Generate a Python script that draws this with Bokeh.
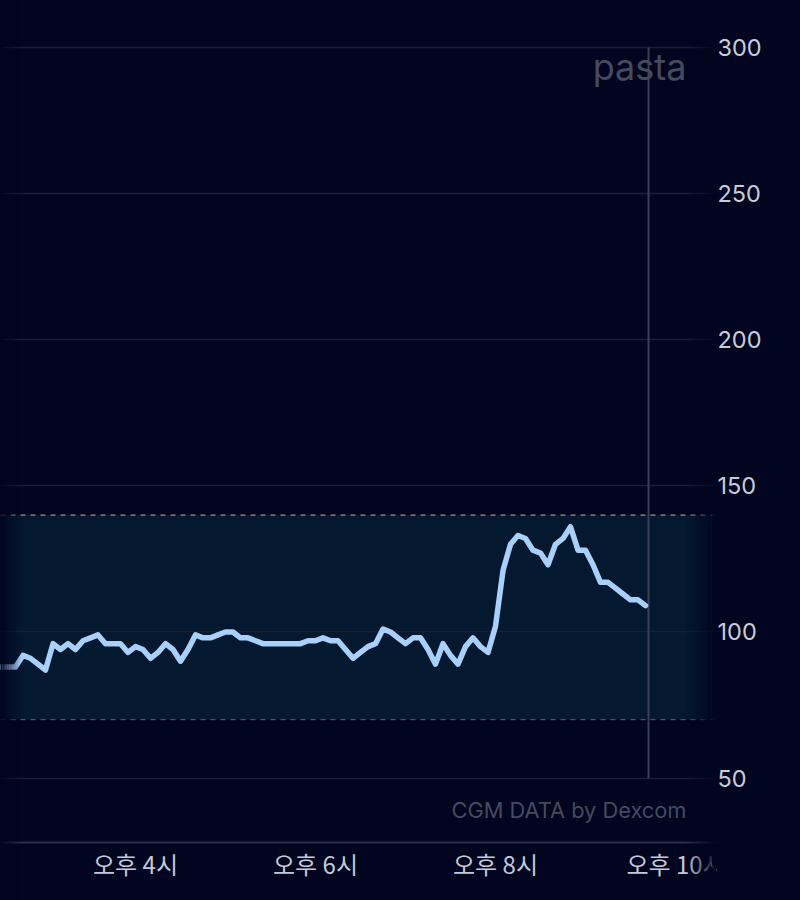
from bokeh.core.properties import value
from bokeh.document import Document
from bokeh.embed import file_html
from bokeh.events import DocumentReady
from bokeh.models import ColumnDataSource, CustomJS, FixedTicker, Label
from bokeh.plotting import figure
from bokeh.resources import INLINE

# 혈당 데이터 (분 단위 시각, mg/dL)
minutes = [870, 875, 880, 885, 890, 895, 900, 905, 910, 915, 920, 925, 930, 935, 940,
           945, 950, 955, 960, 965, 970, 975, 980, 985, 990, 995, 1000, 1005, 1010, 1015,
           1020, 1025, 1030, 1035, 1040, 1045, 1050, 1055, 1060, 1065, 1070, 1075, 1080,
           1085, 1090, 1095, 1100, 1105, 1110, 1115, 1120, 1125, 1130, 1135, 1140, 1145,
           1150, 1155, 1160, 1165, 1170, 1175, 1180, 1185, 1190, 1195, 1200, 1205, 1210,
           1215, 1220, 1225, 1230, 1235, 1240, 1245, 1250, 1255, 1260, 1265, 1270, 1275,
           1280, 1285, 1290, 1295, 1300]
glucose = [88, 88, 88, 92, 91, 89, 87, 96, 94, 96, 94, 97, 98, 99, 96,
           96, 96, 93, 95, 94, 91, 93, 96, 94, 90, 94, 99, 98, 98, 99,
           100, 100, 98, 98, 97, 96, 96, 96, 96, 96, 96, 97, 97,
           98, 97, 97, 94, 91, 93, 95, 96, 101, 100, 98, 96, 98,
           98, 94, 89, 96, 92, 89, 95, 98, 95, 93, 102, 121, 130,
           133, 132, 128, 127, 123, 130, 132, 136, 128, 128, 123, 117, 117,
           115, 113, 111, 111, 109]

y_ticks = [50, 100, 150, 200, 250, 300]
x_ticks = [960, 1080, 1200, 1320]
x_labels = ["오후 4시", "오후 6시", "오후 8시", "오후 10시"]
range_low = 70
range_high = 140
now_line = 1302

BG = "#01051f"
x_start, x_end = 870, 1347.33
y_start, y_end = 8.14, 316.04

source = ColumnDataSource(data=dict(minutes=minutes, glucose=glucose))

p = figure(width=800, height=900, output_backend="svg", toolbar_location=None,
           x_range=(x_start, x_end), y_range=(y_start, y_end), y_axis_location="right",
           background_fill_color=BG, border_fill_color=BG, outline_line_color=None,
           min_border_left=0, min_border_top=0, min_border_right=84, min_border_bottom=0)

# 축
p.xaxis.visible = False
p.yaxis.ticker = FixedTicker(ticks=y_ticks)
p.yaxis.major_label_text_font = "Inter"
p.yaxis.major_label_text_font_size = "23.5px"
p.yaxis.major_label_text_color = "#c8ccd8"
p.yaxis.major_label_standoff = -5
p.yaxis.axis_line_color = None
p.yaxis.major_tick_line_color = None
p.yaxis.minor_tick_line_color = None

p.xgrid.grid_line_color = None
p.ygrid.grid_line_color = "#1b2033"
p.ygrid.grid_line_width = 1.5

# 목표 범위
p.quad(left=x_start, right=x_end, bottom=range_low, top=range_high,
       fill_color="#04182f", line_color=None, level="image")
p.segment(x0=x_start, x1=x_end, y0=range_high, y1=range_high,
          line_color="#c9b898", line_width=1, line_dash="5 5")
p.segment(x0=x_start, x1=x_end, y0=range_low, y1=range_low,
          line_color="#8a4d68", line_width=1, line_dash="5 5")

# 하단 기준선, 현재 시각 선
p.segment(x0=x_start, x1=x_end, y0=28, y1=28, line_color="#2b2f44", line_width=2)
p.segment(x0=now_line, x1=now_line, y0=50, y1=300, line_color="#3a4056", line_width=2)

p.line("minutes", "glucose", source=source, line_color="#a9cffb", line_width=5.5,
       line_join="round", line_cap="round")

# 시간 라벨: 오른쪽 끝에서 잘리도록 프레임 안에 그린다
p.text(x=x_ticks, y=[20.8] * len(x_ticks), text=x_labels, text_align="center",
       text_baseline="middle", text_font=value("Noto Sans CJK KR"), text_font_size="24px",
       text_color="#c4c9d8")

# 양쪽 끝 페이드
steps = 12
for i in range(steps):
    a = 1 - (i + 0.5) / steps
    w = 14.0 / steps
    p.quad(left=x_start + i * w, right=x_start + (i + 1) * w, bottom=y_start, top=y_end,
           fill_color=BG, fill_alpha=a, line_color=None)
    w = 20.0 / steps
    p.quad(left=x_end - (i + 1) * w, right=x_end - i * w, bottom=y_start, top=y_end,
           fill_color=BG, fill_alpha=a, line_color=None)

p.add_layout(Label(x=1327.3, y=293.2, text="pasta", text_align="right", text_baseline="alphabetic",
                   text_font="Inter", text_font_size="36px", text_color="#454a5c"))
p.add_layout(Label(x=1327.3, y=39.1, text="CGM DATA by Dexcom", text_align="right",
                   text_baseline="alphabetic", text_font="Inter", text_font_size="21.8px",
                   text_color="#454a5e"))

# 프레임 경계 틈으로 흰 배경이 비치지 않게
doc = Document()
doc.add_root(p)
doc.js_on_event(DocumentReady, CustomJS(code=f"document.body.style.background = '{BG}';"))

open("out.html", "w").write(file_html(p, INLINE))
